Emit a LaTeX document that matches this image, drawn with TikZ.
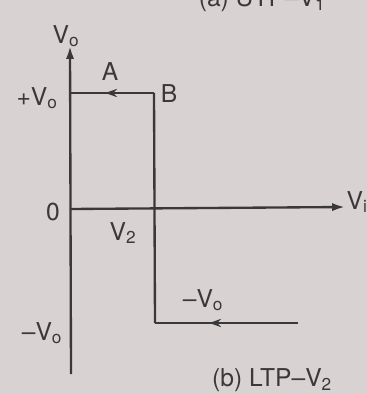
\documentclass[tikz,border=0pt]{standalone}
\usepackage{fontspec}
\setmainfont{TeX Gyre Heros}
\usetikzlibrary{arrows.meta, positioning, decorations.markings}

\definecolor{paper}{RGB}{217,210,210}
\definecolor{ink}{RGB}{58,56,58}

\begin{document}
\begin{tikzpicture}[
  x=0.03cm, y=-0.03cm,
  lbl/.style={inner sep=0pt, text=ink, font=\fontsize{21}{24}\selectfont},
  axis/.style={draw=ink, line width=2pt, -{Latex[length=11pt,width=7pt]}},
  loop/.style={draw=ink, line width=2pt},
  midarrow/.style={postaction={decorate}, decoration={markings,
      mark=at position #1 with {\arrow{Stealth[length=10pt,width=7pt]}}}},
]
\useasboundingbox (0,0) rectangle (367,394);
\fill[paper] (0,0) rectangle (367,394);
\clip (0,0) rectangle (367,394);

% axes
\coordinate (O) at (70,209);
\coordinate (ytop) at (70,46);
\coordinate (ybot) at (71,374);
\coordinate (xend) at (345,207);
\draw[axis] (ybot) -- (ytop);
\draw[axis] (O) -- (xend);

% loop corners
\coordinate (P) at (70,93);
\coordinate (Bc) at (154,93);
\coordinate (Dc) at (155,323);
\coordinate (E) at (298,323);
\draw[loop, midarrow=0.58] (Bc) -- (P);
\draw[loop] (Bc) -- (Dc);
\draw[loop, midarrow=0.62] (E) -- (Dc);

% labels
\node[lbl] (vo) at (66,36) {V\textsubscript{o}};
\node[lbl] (pvo) at (37,98) {+V\textsubscript{o}};
\node[lbl] (A) at (110,72) {A};
\node[lbl] (B) at (169,94) {B};
\node[lbl] (zero) at (53,212) {0};
\node[lbl] (v2) at (123,233) {V\textsubscript{2}};
\node[lbl] (vi) at (357,202) {V\textsubscript{i}};
\node[lbl] (nvo2) at (203,300) {–V\textsubscript{o}};
\node[lbl] (nvo) at (42,333) {–V\textsubscript{o}};
\node[lbl] (capb) at (272,380) {(b) LTP–V\textsubscript{2}};
\node[lbl] (capa) at (262,0) {(a) UTP–V\textsubscript{1}};
\end{tikzpicture}
\end{document}
